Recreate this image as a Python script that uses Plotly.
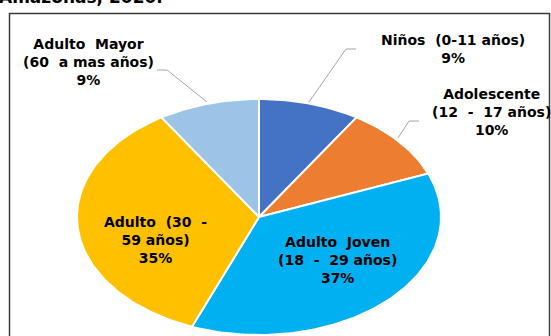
import math
import plotly.graph_objects as go

# Population by age group (percent of total)
groups = ["Niños (0-11 años)", "Adolescente (12 - 17 años)", "Adulto Joven (18 - 29 años)",
          "Adulto (30 - 59 años)", "Adulto Mayor (60 a mas años)"]
shares = [9, 10, 37, 35, 9]
colors = ["#4472C4", "#ED7D31", "#00B0F0", "#FFC000", "#9DC3E6"]
label_texts = ["Niños  (0-11 años)<br>9%",
               "Adolescente<br>(12  -  17 años)<br>10%",
               "Adulto  Joven<br>(18  -  29 años)<br>37%",
               "Adulto  (30  -<br>59 años)<br>35%",
               "Adulto  Mayor<br>(60  a mas años)<br>9%"]

W, H = 551, 336
CX, CY, RX, RY = 259, 217, 182, 118  # pie centre and radii in pixels


def dx(px):
    return (px - CX) / RX


def dy(py):
    return (CY - py) / RY


fig = go.Figure()

# slices drawn clockwise from 12 o'clock
total = sum(shares)
start = 0.0
for name, val, col in zip(groups, shares, colors):
    a0 = start / total * 2 * math.pi
    a1 = (start + val) / total * 2 * math.pi
    n = max(8, int(val * 3))
    xs, ys = [0.0], [0.0]
    for i in range(n + 1):
        a = a0 + (a1 - a0) * i / n
        xs.append(math.sin(a))
        ys.append(math.cos(a))
    xs.append(0.0)
    ys.append(0.0)
    fig.add_trace(go.Scatter(x=xs, y=ys, mode="lines", fill="toself", fillcolor=col,
                             line=dict(color="white", width=2), name=name,
                             hoverinfo="name", showlegend=False))
    start += val

lab_font = dict(family="DejaVu Sans", size=14, color="black", weight="bold")
# label anchor points (pixels)
label_pos = [(453, 49), (491, 112), (337, 260), (155, 240), (88, 62)]
for (px, py), txt in zip(label_pos, label_texts):
    fig.add_annotation(x=dx(px), y=dy(py), text=txt, showarrow=False, font=lab_font,
                       xanchor="center", yanchor="middle", align="center")

# leader lines
leaders = [
    [(356, 49), (346, 49), (309, 102)],
    [(419, 121), (409, 121), (398, 138)],
    [(157, 70), (167, 70), (207, 102)],
]
for pts in leaders:
    path = "M " + " L ".join(f"{dx(x):.4f},{dy(y):.4f}" for x, y in pts)
    fig.add_shape(type="path", path=path, xref="x", yref="y",
                  line=dict(color="#A6A6A6", width=1))

# chart frame
fig.add_shape(type="rect", xref="paper", yref="paper",
              x0=9.5 / W, x1=549.5 / W, y0=-0.1, y1=1 - 13.5 / H,
              line=dict(color="#3A3A3A", width=1.5), fillcolor="rgba(0,0,0,0)")

# title (partly above the visible area)
fig.add_annotation(xref="paper", yref="paper", x=-3 / W, y=1 - 9 / H,
                   xanchor="left", yanchor="bottom", showarrow=False,
                   text="Amazonas, 2020.",
                   font=dict(family="DejaVu Sans", size=17, color="black", weight="bold"))

fig.update_xaxes(range=[dx(0), dx(W)], visible=False, fixedrange=True)
fig.update_yaxes(range=[dy(H), dy(0)], visible=False, fixedrange=True)
fig.update_layout(width=W, height=H, margin=dict(l=0, r=0, t=0, b=0),
                  paper_bgcolor="white", plot_bgcolor="white")

fig.write_html("out.html")
